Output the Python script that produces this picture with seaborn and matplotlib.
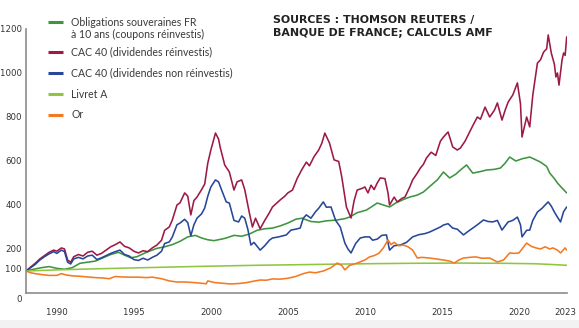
import matplotlib
matplotlib.use("Agg")
import matplotlib.pyplot as plt
from matplotlib import font_manager
from matplotlib.lines import Line2D
from matplotlib.patches import Rectangle
from matplotlib.transforms import ScaledTranslation
import pandas as pd
import seaborn as sns

# ---- data (index base 100 at start of 1988) ----
oblig_years = [1988.0, 1988.5, 1989.0, 1989.5, 1990.0, 1990.5, 1991.0, 1991.5, 1992.0, 1992.5,
               1993.0, 1993.5, 1994.0, 1994.4, 1994.8, 1995.2, 1995.6, 1996.0, 1996.5, 1997.0,
               1997.5, 1998.0, 1998.5, 1999.0, 1999.4, 1999.8, 2000.2, 2000.7, 2001.0, 2001.5,
               2002.0, 2002.5, 2003.0, 2003.5, 2004.0, 2004.5, 2005.0, 2005.5, 2005.9, 2006.5,
               2007.0, 2007.5, 2008.2, 2008.7, 2009.0, 2009.5, 2010.1, 2010.5, 2010.8, 2011.2,
               2011.6, 2012.0, 2012.5, 2012.9, 2013.4, 2013.8, 2014.3, 2014.7, 2015.1, 2015.5,
               2015.9, 2016.2, 2016.6, 2017.0, 2017.5, 2017.9, 2018.4, 2018.8, 2019.1, 2019.4,
               2019.8, 2020.2, 2020.7, 2021.1, 2021.4, 2021.8, 2022.0, 2022.3, 2022.5, 2022.8,
               2023.1]
oblig_values = [100, 108, 115, 120, 112, 108, 115, 135, 140, 145,
                160, 175, 185, 172, 160, 165, 178, 190, 203, 210,
                220, 235, 255, 262, 250, 242, 238, 245, 250, 262,
                258, 268, 285, 292, 295, 305, 318, 335, 340, 325,
                322, 328, 332, 338, 345, 365, 377, 395, 409, 400,
                391, 409, 425, 436, 445, 459, 490, 514, 550, 523,
                540, 559, 582, 545, 552, 559, 562, 568, 590, 618,
                600, 610, 618, 605, 595, 575, 545, 520, 500, 477,
                455]

cac_ri_years = [1988.0, 1988.3, 1988.6, 1988.9, 1989.2, 1989.5, 1989.8, 1990.0, 1990.3, 1990.5,
                1990.7, 1990.9, 1991.1, 1991.4, 1991.7, 1992.0, 1992.3, 1992.6, 1992.9, 1993.2,
                1993.5, 1993.8, 1994.1, 1994.4, 1994.7, 1995.0, 1995.3, 1995.6, 1995.9, 1996.2,
                1996.5, 1996.8, 1997.0, 1997.3, 1997.5, 1997.8, 1998.0, 1998.3, 1998.5, 1998.7,
                1998.9, 1999.1, 1999.4, 1999.6, 1999.8, 2000.0, 2000.3, 2000.5, 2000.6, 2000.9,
                2001.2, 2001.5, 2001.7, 2002.0, 2002.2, 2002.5, 2002.7, 2002.9, 2003.2, 2003.5,
                2003.8, 2004.0, 2004.3, 2004.5, 2004.8, 2005.0, 2005.3, 2005.6, 2005.9, 2006.2,
                2006.4, 2006.7, 2007.0, 2007.2, 2007.4, 2007.7, 2008.0, 2008.3, 2008.5, 2008.8,
                2009.1, 2009.3, 2009.5, 2009.8, 2010.0, 2010.2, 2010.4, 2010.6, 2010.8, 2011.0,
                2011.3, 2011.5, 2011.6, 2011.9, 2012.1, 2012.4, 2012.6, 2012.9, 2013.1, 2013.4,
                2013.6, 2013.8, 2014.0, 2014.3, 2014.6, 2014.9, 2015.1, 2015.4, 2015.7, 2016.0,
                2016.2, 2016.5, 2016.7, 2017.0, 2017.3, 2017.5, 2017.8, 2018.1, 2018.4, 2018.6,
                2018.9, 2019.1, 2019.3, 2019.6, 2019.9, 2020.1, 2020.2, 2020.5, 2020.7, 2020.9,
                2021.2, 2021.4, 2021.6, 2021.8, 2021.9, 2022.1, 2022.3, 2022.4, 2022.5, 2022.6,
                2022.8, 2022.9, 2023.0, 2023.1]
cac_ri_values = [100, 118, 135, 155, 170, 185, 195, 190, 205, 200,
                 150, 140, 165, 175, 168, 185, 190, 172, 180, 195,
                 210, 220, 232, 212, 205, 190, 182, 192, 188, 205,
                 218, 240, 285, 300, 332, 400, 410, 455, 440, 355,
                 420, 436, 470, 495, 590, 650, 727, 700, 664, 582,
                 550, 468, 505, 514, 470, 364, 300, 340, 292, 330,
                 365, 391, 410, 423, 440, 455, 468, 520, 560, 595,
                 578, 620, 650, 680, 727, 682, 605, 598, 527, 391,
                 341, 420, 468, 475, 482, 455, 490, 470, 500, 523,
                 520, 455, 400, 436, 414, 430, 436, 480, 514, 545,
                 568, 585, 614, 640, 625, 690, 709, 732, 664, 650,
                 659, 690, 718, 760, 800, 790, 845, 800, 830, 864,
                 786, 830, 868, 900, 955, 860, 709, 800, 755, 900,
                 1045, 1060, 1095, 1110, 1173, 1091, 1040, 982, 1000, 945,
                 1060, 1091, 1080, 1164]

cac_nri_years = [1988.0, 1988.3, 1988.6, 1988.9, 1989.2, 1989.5, 1989.8, 1990.0, 1990.3, 1990.5,
                 1990.7, 1990.9, 1991.1, 1991.4, 1991.7, 1992.0, 1992.3, 1992.6, 1992.9, 1993.2,
                 1993.5, 1993.8, 1994.1, 1994.4, 1994.7, 1995.0, 1995.3, 1995.6, 1995.9, 1996.2,
                 1996.5, 1996.8, 1997.0, 1997.3, 1997.5, 1997.8, 1998.0, 1998.3, 1998.5, 1998.7,
                 1998.9, 1999.1, 1999.4, 1999.6, 1999.8, 2000.0, 2000.3, 2000.5, 2000.7, 2001.0,
                 2001.2, 2001.5, 2001.8, 2002.0, 2002.2, 2002.4, 2002.6, 2002.8, 2003.2, 2003.5,
                 2003.8, 2004.0, 2004.4, 2004.9, 2005.2, 2005.5, 2005.8, 2006.0, 2006.2, 2006.5,
                 2006.8, 2007.0, 2007.3, 2007.5, 2007.8, 2008.1, 2008.4, 2008.7, 2008.9, 2009.1,
                 2009.4, 2009.7, 2010.0, 2010.3, 2010.5, 2010.8, 2011.1, 2011.4, 2011.6, 2011.9,
                 2012.3, 2012.7, 2013.1, 2013.5, 2013.9, 2014.2, 2014.6, 2014.9, 2015.1, 2015.4,
                 2015.7, 2016.0, 2016.4, 2016.7, 2017.0, 2017.3, 2017.7, 2018.0, 2018.3, 2018.6,
                 2018.9, 2019.1, 2019.3, 2019.6, 2019.9, 2020.1, 2020.2, 2020.5, 2020.7, 2020.9,
                 2021.2, 2021.5, 2021.7, 2021.9, 2022.1, 2022.3, 2022.5, 2022.7, 2022.9, 2023.1]
cac_nri_values = [100, 115, 130, 150, 165, 178, 188, 180, 195, 188,
                  140, 132, 155, 162, 155, 168, 172, 152, 160, 170,
                  180, 188, 195, 175, 168, 152, 148, 158, 150, 162,
                  172, 190, 225, 232, 255, 310, 318, 335, 320, 260,
                  310, 340, 360, 386, 440, 482, 514, 505, 468, 414,
                  409, 330, 323, 350, 340, 290, 218, 230, 195, 215,
                  240, 250, 255, 264, 286, 290, 295, 340, 355, 340,
                  370, 385, 414, 390, 391, 330, 300, 227, 200, 182,
                  225, 250, 255, 255, 240, 245, 262, 264, 195, 215,
                  218, 230, 255, 265, 270, 277, 290, 300, 309, 315,
                  295, 290, 264, 280, 295, 310, 332, 325, 323, 330,
                  286, 305, 323, 330, 345, 310, 255, 285, 286, 330,
                  368, 385, 400, 414, 395, 368, 345, 323, 370, 391]

livret_years = [1988.0, 1990.0, 1992.0, 1995.0, 1998.0, 2000.0, 2003.0, 2005.0, 2008.0,
                2010.0, 2013.0, 2016.0, 2019.0, 2021.0, 2022.0, 2023.1]
livret_values = [100, 105, 109, 114, 119, 122, 126, 128, 131,
                 133, 135, 136, 135, 133, 130, 126]

or_years = [1988.0, 1988.3, 1988.6, 1989.0, 1989.5, 1990.0, 1990.3, 1990.6, 1991.0, 1991.5,
            1992.0, 1992.5, 1993.0, 1993.4, 1993.8, 1994.2, 1994.8, 1995.3, 1995.8, 1996.2,
            1996.8, 1997.3, 1997.8, 1998.3, 1998.8, 1999.3, 1999.7, 1999.8, 2000.2, 2000.8,
            2001.3, 2001.8, 2002.3, 2002.8, 2003.2, 2003.6, 2004.0, 2004.5, 2005.0, 2005.5,
            2006.0, 2006.4, 2006.8, 2007.3, 2007.8, 2008.2, 2008.5, 2008.7, 2009.0, 2009.5,
            2010.0, 2010.3, 2010.6, 2010.9, 2011.2, 2011.5, 2011.7, 2011.9, 2012.2, 2012.5,
            2012.8, 2013.1, 2013.4, 2013.7, 2014.2, 2014.6, 2015.1, 2015.5, 2015.8, 2016.1,
            2016.4, 2016.8, 2017.2, 2017.6, 2018.1, 2018.6, 2019.0, 2019.4, 2019.7, 2020.0,
            2020.2, 2020.5, 2020.8, 2021.1, 2021.4, 2021.7, 2022.0, 2022.2, 2022.5, 2022.7,
            2023.0, 2023.1]
or_values = [100, 92, 88, 84, 80, 80, 88, 82, 78, 76,
             73, 70, 68, 65, 75, 73, 72, 72, 70, 72,
             65, 55, 50, 50, 48, 45, 42, 55, 48, 44,
             41, 43, 47, 54, 59, 58, 64, 63, 67, 75,
             88, 95, 92, 100, 115, 136, 125, 105, 125, 136,
             150, 164, 170, 180, 205, 241, 220, 230, 215, 218,
             210, 195, 159, 162, 159, 155, 150, 145, 136, 150,
             159, 162, 164, 158, 159, 141, 150, 182, 180, 182,
             200, 227, 212, 205, 200, 210, 200, 205, 195, 182,
             205, 195]

labels = ["Obligations souveraines FR\nà 10 ans (coupons réinvestis)",
          "CAC 40 (dividendes réinvestis)",
          "CAC 40 (dividendes non réinvestis)",
          "Livret A",
          "Or"]
colors = ["#3f9440", "#9c1a45", "#27479a", "#8fc640", "#f37a22"]

year_ticks = [1990, 1995, 2000, 2005, 2010, 2015, 2020, 2023]
value_ticks = [0, 100, 200, 400, 600, 800, 1000, 1200]

source_text = "SOURCES : THOMSON REUTERS /\nBANQUE DE FRANCE; CALCULS AMF"

# ---- long-form table ----
frames = []
for lab, yrs, vals in zip(labels,
                          [oblig_years, cac_ri_years, cac_nri_years, livret_years, or_years],
                          [oblig_values, cac_ri_values, cac_nri_values, livret_values, or_values]):
    frames.append(pd.DataFrame({"annee": yrs, "indice": vals, "serie": lab}))
df = pd.concat(frames, ignore_index=True)

sns.set_theme(style="white")

# pick a narrow face for the tick numbers when one is available
installed = {f.name for f in font_manager.fontManager.ttflist}
if "Liberation Sans Narrow" in installed:
    tick_font = dict(family="Liberation Sans Narrow", size=7.6)
elif any(f.name == "DejaVu Sans" and f.stretch == "condensed"
         for f in font_manager.fontManager.ttflist):
    tick_font = dict(family="DejaVu Sans", stretch="condensed", size=6.8)
else:
    tick_font = dict(family="Liberation Sans", size=6.6)
legend_family = "Lato" if "Lato" in installed else "Liberation Sans"
plt.rcParams["font.family"] = [legend_family, "DejaVu Sans"]

W, H = 579, 328
fig = plt.figure(figsize=(W / 100, H / 100), dpi=100)
fig.patch.set_facecolor("white")
ax = fig.add_axes([26 / W, 35 / H, 541 / W, 264 / H])
ax.set_facecolor("white")

sns.lineplot(data=df, x="annee", y="indice", hue="serie", hue_order=labels,
             palette=dict(zip(labels, colors)), estimator=None, sort=False,
             linewidth=1.15, legend=False, ax=ax)

ax.set_xlim(1988.0, 2023.12)
ax.set_ylim(0, 1200)
ax.set_xlabel("")
ax.set_ylabel("")
for side in ("top", "right"):
    ax.spines[side].set_visible(False)
for side in ("left", "bottom"):
    ax.spines[side].set_color("#8c8c8c")
    ax.spines[side].set_linewidth(1.2)

ax.set_xticks(year_ticks)
ax.set_xticklabels([str(y) for y in year_ticks])
ax.set_yticks(value_ticks)
ax.set_yticklabels([str(v) for v in value_ticks])
ax.tick_params(axis="x", length=0, pad=11, labelcolor="#333333")
ax.tick_params(axis="y", length=2.0, width=0.8, color="#8c8c8c", direction="out",
               pad=1.2, labelcolor="#333333")
for lbl in ax.get_xticklabels() + ax.get_yticklabels():
    lbl.set_fontproperties(font_manager.FontProperties(**tick_font))

# nudge the two lowest value labels apart, as they sit close together
ylabels = ax.get_yticklabels()
ylabels[0].set_transform(ylabels[0].get_transform()
                         + ScaledTranslation(0, -5 / 100, fig.dpi_scale_trans))
ylabels[1].set_transform(ylabels[1].get_transform()
                         + ScaledTranslation(0, 2 / 100, fig.dpi_scale_trans))
ax.grid(False)

# ---- legend drawn by hand (handle aligned with first text line) ----
def fx(px):
    return px / W

def fy(py):
    return 1 - py / H

legend_rows = [22, 52, 73, 94, 115]
for lab, col, ypx in zip(labels, colors, legend_rows):
    fig.add_artist(Line2D([fx(48), fx(63)], [fy(ypx), fy(ypx)], color=col, linewidth=2.2,
                          solid_capstyle="butt"))
    fig.text(fx(71), fy(ypx - 5.5), lab, ha="left", va="top", fontsize=7.6,
             color="#3a3a3a", linespacing=1.2)

# ---- sources note ----
fig.text(fx(273), fy(14.5), source_text, ha="left", va="top", fontsize=7.9,
         fontweight="heavy", family=["DejaVu Sans"], color="#222222", linespacing=1.4)

# light band along the lower edge
fig.add_artist(Rectangle((0, 0), 1, 8 / H, transform=fig.transFigure,
                         facecolor="#f2f2f2", edgecolor="none", zorder=-1))

fig.savefig("out.png", dpi=100)
